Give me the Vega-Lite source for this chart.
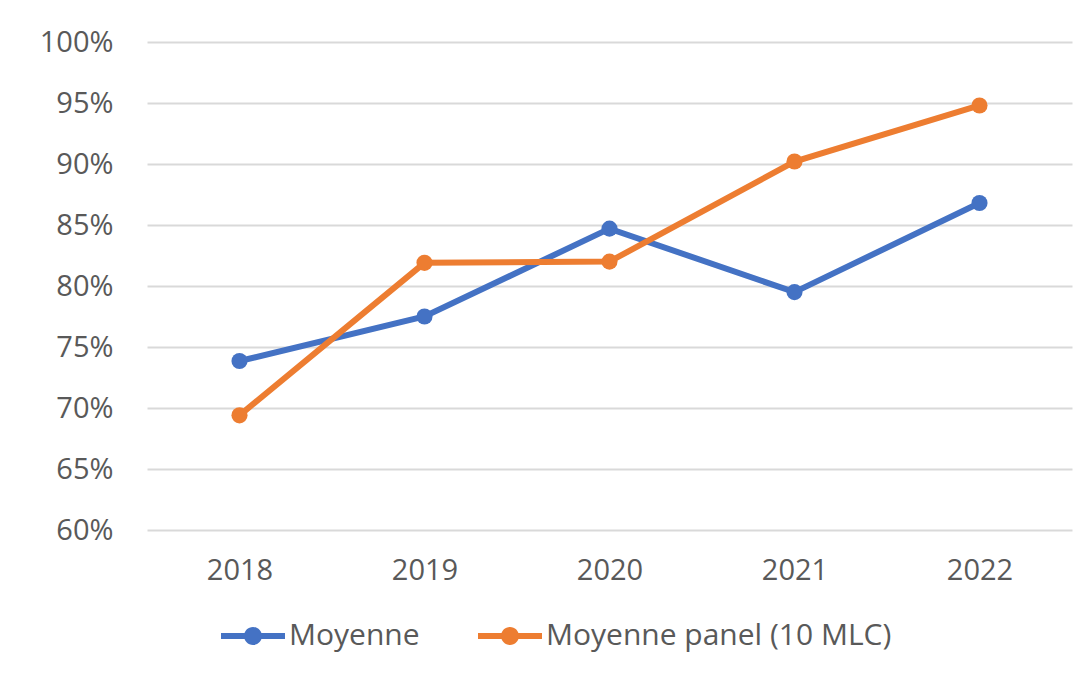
{
  "$schema": "https://vega.github.io/schema/vega-lite/v6.json",
  "width": 925,
  "height": 488,
  "autosize": {"type": "none"},
  "padding": {"left": 147, "top": 42, "right": 13, "bottom": 145},
  "background": "white",
  "config": {
    "view": {"stroke": null},
    "font": "Open Sans",
    "axis": {"labelFont": "Open Sans", "labelColor": "#595959", "labelFontSize": 29, "ticks": false, "domain": false, "title": null},
    "legend": {"labelFont": "Open Sans", "labelColor": "#595959", "labelFontSize": 30, "labelLimit": 0}
  },
  "data": {
    "values": [
      {"annee": "2018", "serie": "Moyenne", "valeur": 0.7385},
      {"annee": "2019", "serie": "Moyenne", "valeur": 0.775},
      {"annee": "2020", "serie": "Moyenne", "valeur": 0.847},
      {"annee": "2021", "serie": "Moyenne", "valeur": 0.795},
      {"annee": "2022", "serie": "Moyenne", "valeur": 0.868},
      {"annee": "2018", "serie": "Moyenne panel (10 MLC)", "valeur": 0.694},
      {"annee": "2019", "serie": "Moyenne panel (10 MLC)", "valeur": 0.819},
      {"annee": "2020", "serie": "Moyenne panel (10 MLC)", "valeur": 0.820},
      {"annee": "2021", "serie": "Moyenne panel (10 MLC)", "valeur": 0.902},
      {"annee": "2022", "serie": "Moyenne panel (10 MLC)", "valeur": 0.948}
    ]
  },
  "encoding": {
    "x": {"field": "annee", "type": "ordinal", "scale": {"type": "point", "padding": 0.5},
          "axis": {"labelAngle": 0, "labelPadding": 26, "grid": false}},
    "y": {"field": "valeur", "type": "quantitative", "scale": {"domain": [0.6, 1.0], "nice": false, "zero": false},
          "axis": {"format": ".0%", "values": [0.6, 0.65, 0.7, 0.75, 0.8, 0.85, 0.9, 0.95, 1.0], "labelPadding": 34, "grid": true, "gridColor": "#d9d9d9", "gridWidth": 2}},
    "color": {"field": "serie", "type": "nominal",
              "scale": {"domain": ["Moyenne", "Moyenne panel (10 MLC)"], "range": ["#4472C4", "#ED7D31"]},
              "legend": {"title": null, "orient": "none", "legendX": 74, "legendY": 562, "direction": "horizontal", "columns": 2, "columnPadding": 58,
                         "symbolType": "M-1,-0.09H1V0.09H-1Z M0.28,0A0.28,0.28,0,1,1,-0.28,0A0.28,0.28,0,1,1,0.28,0Z",
                         "symbolSize": 4096, "symbolStrokeWidth": 0, "labelOffset": 4,
                         "encode": {"symbols": {"update": {"fill": {"scale": "color", "field": "value"}, "fillOpacity": {"value": 1}, "strokeWidth": {"value": 0}}}}}}
  },
  "layer": [
    {"mark": {"type": "line", "strokeWidth": 6}},
    {"mark": {"type": "point", "filled": true, "size": 260, "opacity": 1}}
  ]
}
